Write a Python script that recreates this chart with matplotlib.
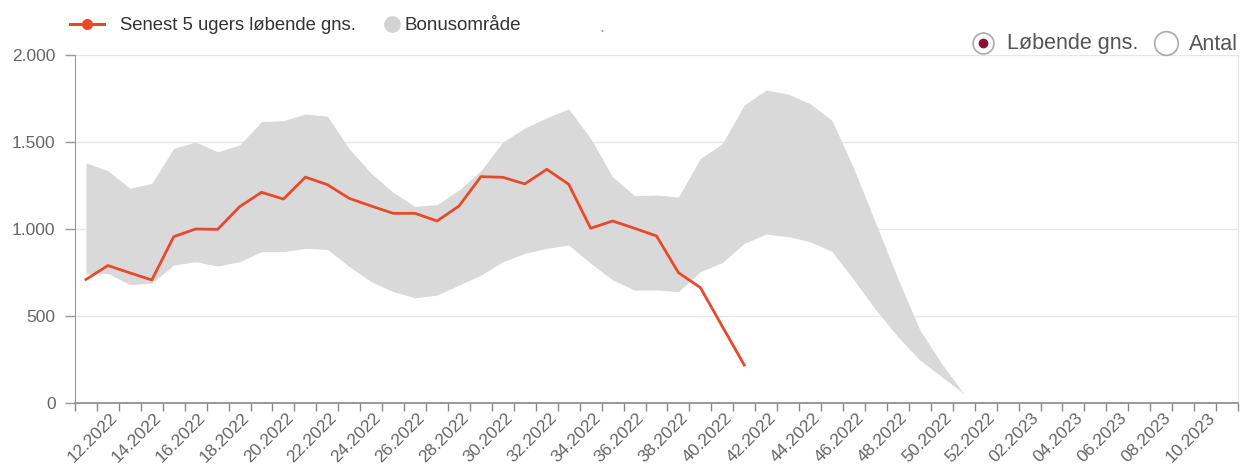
import numpy as np
import matplotlib
matplotlib.use("Agg")
import matplotlib.pyplot as plt
from matplotlib.transforms import ScaledTranslation, blended_transform_factory
from matplotlib.lines import Line2D

plt.rcParams['font.family'] = ['Liberation Sans', 'DejaVu Sans']

# ---- data ----
weeks = [f"{w:02d}.2022" for w in range(11, 53)] + [f"{w:02d}.2023" for w in range(1, 12)]

running_avg = [710, 790, 748, 707, 956, 1000, 998, 1128, 1211, 1172, 1298,
               1255, 1176, 1132, 1090, 1090, 1046, 1132, 1301, 1297, 1259,
               1343, 1257, 1004, 1046, 1004, 960, 749, 663, 440, 218]

bonus_upper = [1380, 1335, 1234, 1262, 1464, 1500, 1444, 1483, 1617, 1623, 1661,
               1649, 1460, 1320, 1210, 1130, 1140, 1224, 1335, 1500, 1580,
               1640, 1690, 1520, 1300, 1192, 1195, 1184, 1406, 1490, 1713,
               1799, 1775, 1720, 1624, 1345, 1030, 715, 420, 225, 55]

bonus_lower = [740, 745, 680, 690, 793, 812, 787, 812, 870, 870, 889,
               883, 784, 697, 640, 605, 620, 678, 735, 812, 860,
               889, 908, 803, 707, 649, 649, 640, 755, 807, 918,
               971, 956, 927, 870, 707, 534, 381, 247, 151, 55]

y_ticks = [0, 500, 1000, 1500, 2000]
y_tick_labels = ["0", "500", "1.000", "1.500", "2.000"]

legend_line = "Senest 5 ugers løbende gns."
legend_band = "Bonusområde"
radio_on = "Løbende gns."
radio_off = "Antal"

RED = "#e8492d"
BAND = "#d9d9d9"
TXT = "#555555"

W, H = 1242, 467
fig = plt.figure(figsize=(W / 100, H / 100), dpi=100)
L, R, T, B = 75, 1238, 55, 403
ax = fig.add_axes([L / W, (H - B) / H, (R - L) / W, (B - T) / H])

x_all = np.arange(len(weeks))
xb = x_all[:len(bonus_upper)]
ax.fill_between(xb, bonus_lower, bonus_upper, color=BAND, lw=0, zorder=1)
xr = x_all[:len(running_avg)]
ax.plot(xr, running_avg, color=RED, lw=2.0, zorder=3, solid_joinstyle='round')

ax.set_xlim(-0.5, len(weeks) - 0.5)
ax.set_ylim(0, 2000)

# grid
ax.set_yticks(y_ticks)
ax.set_yticklabels(y_tick_labels)
for yv in y_ticks[1:]:
    ax.axhline(yv, color="#e6e6e6", lw=1.0, zorder=0)

ax.tick_params(axis='y', length=7, width=1, color="#999999", pad=7,
               labelsize=12.5, labelcolor="#666666")

# x ticks at category boundaries
ax.set_xticks(np.arange(-0.5, len(weeks), 1.0))
ax.set_xticklabels([])
ax.tick_params(axis='x', length=6, width=1, color="#888888")

tr = blended_transform_factory(ax.transData, ax.transAxes) + ScaledTranslation(2 / 100, -7 / 100, fig.dpi_scale_trans)
for i, lab in enumerate(weeks):
    if i % 2 == 1:
        ax.text(i, 0, lab, transform=tr, rotation=45, ha='right', va='top',
                rotation_mode='anchor', fontsize=12.5, color="#666666")

ax.spines['top'].set_visible(False)
ax.spines['right'].set_color("#e3e3e3")
ax.spines['left'].set_color("#999999")
ax.spines['bottom'].set_color("#888888")
ax.spines['bottom'].set_linewidth(1.2)

# legend (top-left)
def px(x, y):
    return x / W, 1 - y / H

fig.add_artist(Line2D([70 / W, 104 / W], [1 - 24 / H] * 2, color=RED, lw=2.2,
                      transform=fig.transFigure))
fig.add_artist(Line2D([87 / W], [1 - 24 / H], color=RED, marker='o', ms=7,
                      transform=fig.transFigure))
fig.text(*px(120, 25), legend_line, fontsize=13.3, color="#333333", va='center', ha='left')
fig.add_artist(Line2D([392 / W], [1 - 24 / H], color="#d3d3d3", marker='o', ms=11, lw=0,
                      transform=fig.transFigure))
fig.text(*px(405, 25), legend_band, fontsize=13.5, color="#333333", va='center', ha='left')
fig.text(*px(599, 27), ".", fontsize=13, color="#999999", va='center', ha='left')

# radio buttons (top-right)
fig.add_artist(Line2D([983 / W], [1 - 43 / H], marker='o', ms=15, mfc='white',
                      mec="#aaaaaa", mew=1.2, lw=0, transform=fig.transFigure))
fig.add_artist(Line2D([983 / W], [1 - 43 / H], marker='o', ms=6, mfc="#8b1232",
                      mec="#8b1232", lw=0, transform=fig.transFigure))
fig.text(*px(1007, 44), radio_on, fontsize=15.5, color=TXT, va='center', ha='left')
fig.add_artist(Line2D([1166 / W], [1 - 43 / H], marker='o', ms=17, mfc='white',
                      mec="#aaaaaa", mew=1.2, lw=0, transform=fig.transFigure))
fig.text(*px(1189, 44), radio_off, fontsize=15.5, color=TXT, va='center', ha='left')

fig.savefig("out.png", dpi=100)
